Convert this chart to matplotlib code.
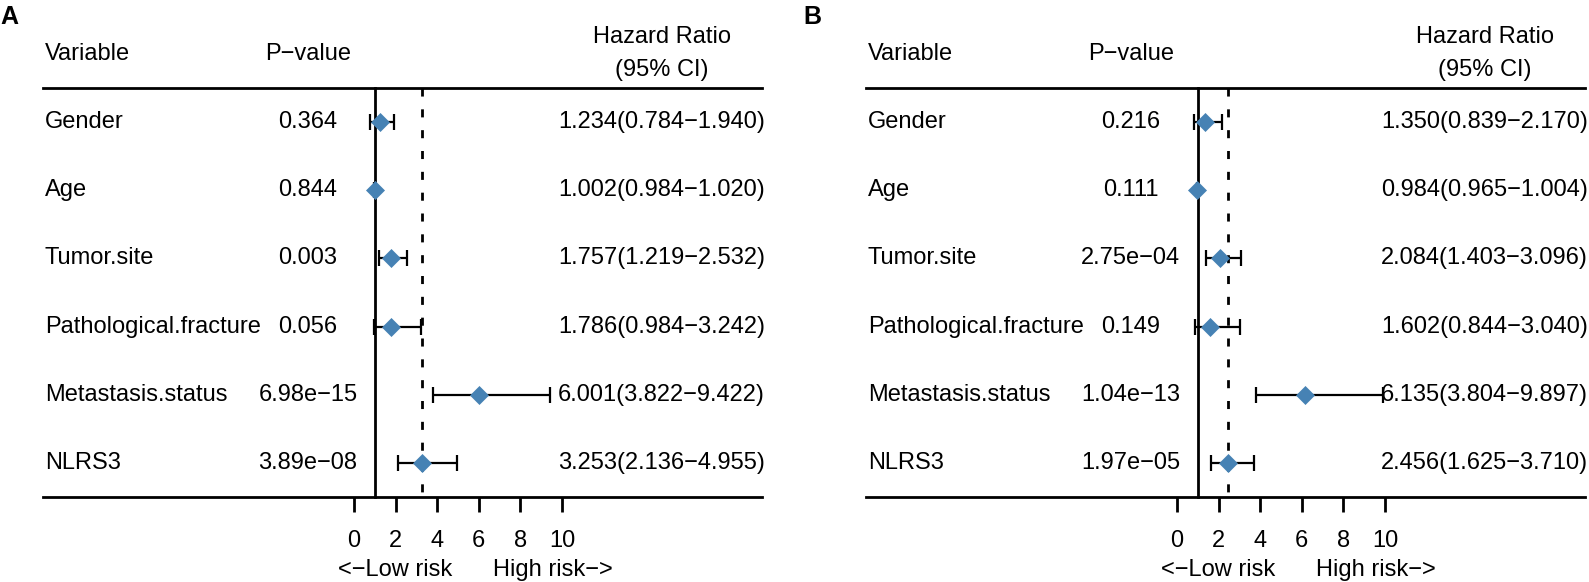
import matplotlib
matplotlib.use("Agg")
import matplotlib.pyplot as plt
from matplotlib.transforms import blended_transform_factory

plt.rcParams["font.family"] = ["Liberation Sans", "DejaVu Sans"]

MINUS = "\u2212"

variables = ["Gender", "Age", "Tumor.site", "Pathological.fracture",
             "Metastasis.status", "NLRS3"]

# panel A
pvals_a = ["0.364", "0.844", "0.003", "0.056", "6.98e-15", "3.89e-08"]
hr_a = [1.234, 1.002, 1.757, 1.786, 6.001, 3.253]
lo_a = [0.784, 0.984, 1.219, 0.984, 3.822, 2.136]
hi_a = [1.940, 1.020, 2.532, 3.242, 9.422, 4.955]

# panel B
pvals_b = ["0.216", "0.111", "2.75e-04", "0.149", "1.04e-13", "1.97e-05"]
hr_b = [1.350, 0.984, 2.084, 1.602, 6.135, 2.456]
lo_b = [0.839, 0.965, 1.403, 0.844, 3.804, 1.625]
hi_b = [2.170, 1.004, 3.096, 3.040, 9.897, 3.710]

x_ticks = [0, 2, 4, 6, 8, 10]

W, H = 1589, 582
PANEL_W = 766
BLUE = "#4682B4"
FS = 17


def draw_panel(fig, left_px, letter, pvals, hr, lo, hi):
    ax = fig.add_axes([left_px / W, 0, PANEL_W / W, 1])
    ax.patch.set_visible(False)
    # x in hazard-ratio units, y in row units
    ax.set_xlim(-354 / 20.8, (PANEL_W - 354) / 20.8)
    ax.set_ylim(6.745, -1.789)
    for s in ["left", "right", "top", "bottom"]:
        ax.spines[s].set_visible(False)
    ax.spines["bottom"].set_position(("data", 5.5))
    ax.set_yticks([])
    ax.set_xticks(x_ticks)
    ax.set_xticklabels([str(t) for t in x_ticks], fontsize=FS)
    ax.tick_params(axis="x", direction="out", length=11, width=2, pad=13)

    rows = list(range(len(variables)))
    tr = blended_transform_factory(ax.transAxes, ax.transData)

    # header
    ax.text(0.0587, -1.0, "Variable", transform=tr, ha="left", va="center", fontsize=FS)
    ax.text(0.402, -1.0, "P" + MINUS + "value", transform=tr, ha="center", va="center", fontsize=FS)
    ax.text(0.864, -1.25, "Hazard Ratio", transform=tr, ha="center", va="center", fontsize=FS)
    ax.text(0.864, -0.76, "(95% CI)", transform=tr, ha="center", va="center", fontsize=FS)

    ax.axhline(-0.5, xmin=0.056, xmax=0.995, color="black", lw=2)
    ax.axhline(5.5, xmin=0.056, xmax=0.995, color="black", lw=2)

    for r, name, p, h, l, u in zip(rows, variables, pvals, hr, lo, hi):
        ax.text(0.0587, r, name, transform=tr, ha="left", va="center", fontsize=FS)
        ax.text(0.402, r, p.replace("-", MINUS), transform=tr, ha="center", va="center", fontsize=FS)
        label = f"{h:.3f}({l:.3f}{MINUS}{u:.3f})"
        ax.text(0.9987, r, label, transform=tr, ha="right", va="center", fontsize=FS)

    # reference lines: HR = 1 and the NLRS3 hazard ratio
    ax.plot([1, 1], [-0.5, 5.5], color="black", lw=2)
    ref = hr[-1]
    ax.plot([ref, ref], [-0.5, 5.5], color="black", lw=2, ls=(0, (2.9, 4.6)))

    xerr = [[h - l for h, l in zip(hr, lo)], [u - h for h, u in zip(hr, hi)]]
    ax.errorbar(hr, rows, xerr=xerr, fmt="none", ecolor="black",
                elinewidth=1.6, capsize=6, capthick=1.6, zorder=3)
    ax.plot(hr, rows, "D", color=BLUE, ms=8.8, mec=BLUE, mew=0.5, zorder=4)

    ax.text(4.7, 6.57, "<" + MINUS + "Low risk", ha="right", va="center", fontsize=FS)
    ax.text(6.68, 6.57, "High risk" + MINUS + ">", ha="left", va="center", fontsize=FS)

    fig.text(left_px / W + (0 if letter == "A" else 803 - left_px) / W, 1 - 16.5 / H,
             letter, ha="left", va="center", fontsize=18, fontweight="bold")
    return ax


def main():
    fig = plt.figure(figsize=(W / 100, H / 100), dpi=100)
    draw_panel(fig, 0, "A", pvals_a, hr_a, lo_a, hi_a)
    draw_panel(fig, 823, "B", pvals_b, hr_b, lo_b, hi_b)
    fig.savefig("out.png", dpi=100)


if __name__ == "__main__":
    main()
